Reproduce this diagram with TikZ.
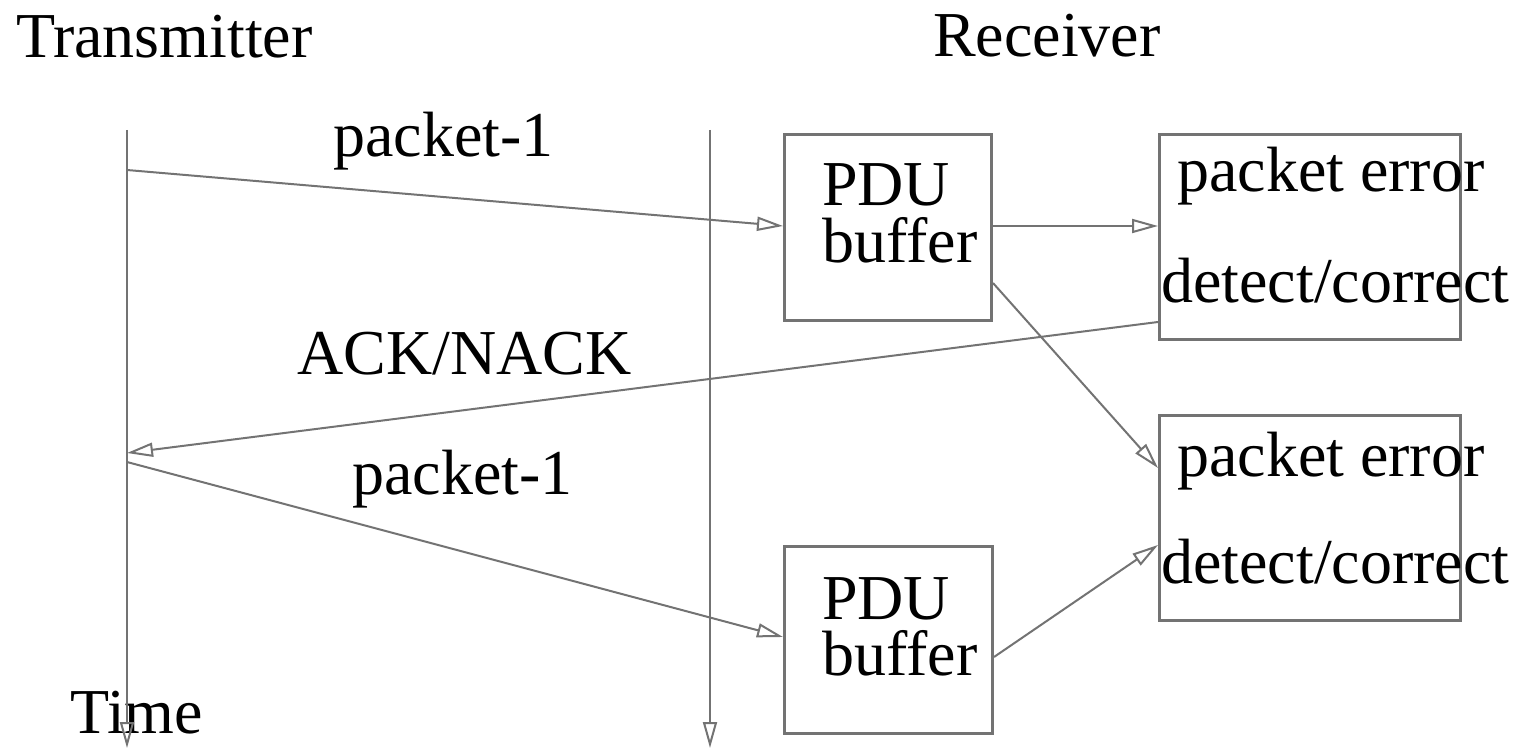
\documentclass[tikz,border=0pt]{standalone}
\usepackage{fontspec}
\setmainfont{Liberation Serif}
\usetikzlibrary{arrows.meta}

\tikzset{
  line/.style={draw=black!55, line width=2pt},
  msg/.style={line, -{Triangle[open, length=26pt, width=14pt, line width=2pt]}},
  frame/.style={draw=black!55, line width=3pt, inner sep=0pt, minimum width=#1},
  lbl/.style={inner sep=0pt, anchor=base west, font=\fontsize{64}{70}\selectfont}
}

\begin{document}
\begin{tikzpicture}[x=1pt, y=-1pt]
  \useasboundingbox (0,0) rectangle (1519,749);

  % headings
  \node[lbl] (tx) at (16,58) {Transmitter};
  \node[lbl] (rx) at (933,57) {Receiver};
  \node[lbl] (time) at (70,733) {Time};

  % time lines
  \coordinate (ttop) at (127,130);
  \coordinate (tbot) at (127,748);
  \coordinate (rtop) at (710,130);
  \coordinate (rbot) at (710,748);
  \draw[msg] (ttop) -- (tbot);
  \draw[msg] (rtop) -- (rbot);

  % receiver boxes
  \node[frame=207pt, minimum height=186pt, anchor=north west] (pdu1) at (783,133) {};
  \node[frame=301pt, minimum height=205pt, anchor=north west] (err1) at (1158,133) {};
  \node[frame=301pt, minimum height=205pt, anchor=north west] (err2) at (1158,414) {};
  \node[frame=208pt, minimum height=187pt, anchor=north west] (pdu2) at (783,545) {};

  % box texts
  \node[lbl] (pdu1a) at (822,206) {PDU};
  \node[lbl] (pdu1b) at (822,262) {buffer};
  \node[lbl] (err1a) at (1177,192) {packet error};
  \node[lbl] (err1b) at (1161,302) {detect/correct};
  \node[lbl] (err2a) at (1177,476) {packet error};
  \node[lbl] (err2b) at (1161,583) {detect/correct};
  \node[lbl] (pdu2a) at (822,619) {PDU};
  \node[lbl] (pdu2b) at (822,675) {buffer};

  % message labels
  \node[lbl] (m1) at (333,157) {packet-1};
  \node[lbl] (ack) at (297,374) {ACK/NACK};
  \node[lbl] (m2) at (352,494) {packet-1};

  % messages
  \coordinate (s1) at (127,170);
  \coordinate (a1) at (127,453);
  \coordinate (s2) at (127,462);
  \draw[msg] (s1) -- (pdu1.west |- 0,226);
  \draw[msg] (err1.west |- 0,322) -- (a1);
  \draw[msg] (s2) -- (pdu2.west |- 0,637);

  % internal flows
  \draw[msg] (pdu1.east |- 0,226) -- (err1.west |- 0,226);
  \draw[msg] (pdu1.east |- 0,283) -- (err2.west |- 0,468);
  \draw[msg] (pdu2.east |- 0,657) -- (err2.west |- 0,545);
\end{tikzpicture}
\end{document}
